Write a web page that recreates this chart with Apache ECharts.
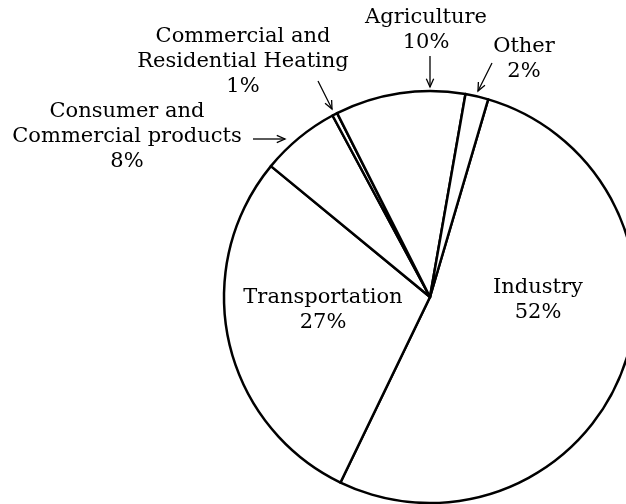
<!DOCTYPE html>
<html>
<head>
<meta charset="utf-8">
<script src="https://cdn.jsdelivr.net/npm/echarts@6/dist/echarts.min.js"></script>
<style>html,body{margin:0;padding:0;background:#fff}#c{width:626px;height:504px}</style>
</head>
<body>
<div id="c"></div>
<script>
// Data (clockwise from the Industry slice)
var categories = ['Industry', 'Transportation', 'Consumer and\nCommercial products', 'Commercial and\nResidential Heating', 'Agriculture', 'Other'];
// slice sizes as drawn in the picture (percent of circle)
var sliceValues = [52.6, 28.8, 6.2, 0.4, 10.2, 1.8];
// percentages printed on the labels
var printedPercents = ['52%', '27%', '8%', '1%', '10%', '2%'];

// Label placement (annotation layout, not data)
var labelPos = [[538, 300], [323, 310], [127, 137], [243, 62], [426, 30], [524, 59]];
var arrows = [null, null, [[253, 139], [285, 139]], [[318, 81], [332, 109]], [[430, 56], [430, 87]], [[492, 63], [478, 91]]];

var chart = echarts.init(document.getElementById('c'), null, {renderer: 'canvas'});
var font = 'DejaVu Serif';

function arrowGraphics() {
  var out = [];
  arrows.forEach(function (a) {
    if (!a) return;
    var x1 = a[0][0], y1 = a[0][1], x2 = a[1][0], y2 = a[1][1];
    var ang = Math.atan2(y2 - y1, x2 - x1);
    var L = 9, w = 0.42;
    var h1 = [x2 - L * Math.cos(ang - w), y2 - L * Math.sin(ang - w)];
    var h2 = [x2 - L * Math.cos(ang + w), y2 - L * Math.sin(ang + w)];
    out.push({type: 'line', silent: true, shape: {x1: x1, y1: y1, x2: x2, y2: y2}, style: {stroke: '#000', lineWidth: 1.3}});
    out.push({type: 'polyline', silent: true, shape: {points: [h1, [x2, y2], h2]}, style: {stroke: '#000', lineWidth: 1.3, fill: null}});
  });
  return out;
}

chart.setOption({
  animation: false,
  backgroundColor: '#fff',
  graphic: arrowGraphics(),
  series: [{
    type: 'pie',
    center: [430, 297],
    radius: 206,
    startAngle: 73.6,
    clockwise: true,
    avoidLabelOverlap: false,
    silent: true,
    itemStyle: {color: '#fff', borderColor: '#000', borderWidth: 2.5},
    label: {
      show: true,
      color: '#000',
      fontFamily: font,
      fontSize: 21,
      lineHeight: 25,
      align: 'center',
      formatter: function (p) { return p.name + '\n' + printedPercents[p.dataIndex]; }
    },
    labelLine: {show: false},
    labelLayout: function (p) {
      var pos = labelPos[p.dataIndex];
      return {x: pos[0], y: pos[1], align: 'center', verticalAlign: 'middle'};
    },
    emphasis: {disabled: true},
    data: categories.map(function (c, i) { return {name: c, value: sliceValues[i]}; })
  }]
});
</script>
</body>
</html>
